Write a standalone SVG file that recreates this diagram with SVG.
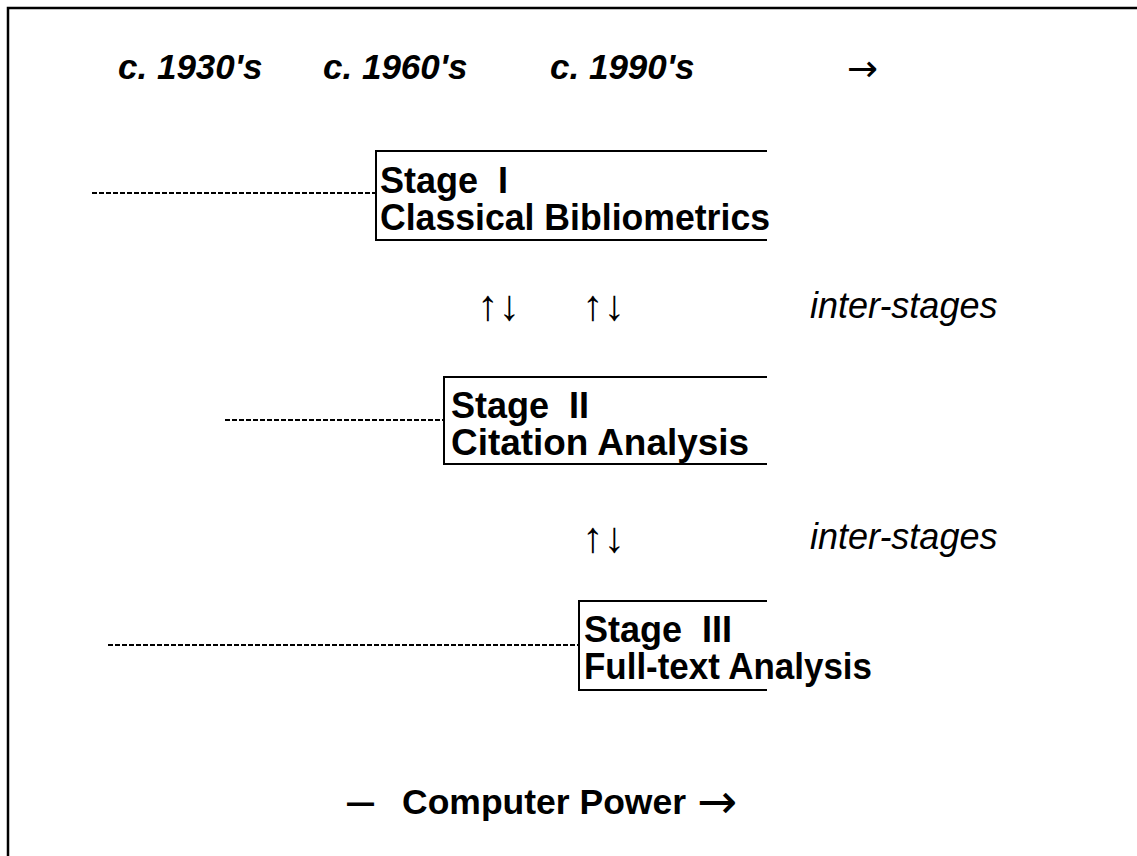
<svg xmlns="http://www.w3.org/2000/svg" width="1137" height="856" viewBox="0 0 1137 856">
<style>
.t{font-family:"Liberation Sans",Arial,sans-serif;fill:#000;white-space:pre}
.a{font-family:"DejaVu Sans",sans-serif;fill:#000}
.b{font-weight:bold}
.i{font-style:italic}
.box{fill:none;stroke:#000;stroke-width:2}
.dash{fill:none;stroke:#000;stroke-width:2;stroke-dasharray:5 2}
.frame{fill:none;stroke:#000;stroke-width:2.5}
</style>
<rect width="1137" height="856" fill="#fff"/>
<path class="frame" d="M8 856 V8 H1137"/>
<g id="timeline">
<text class="t b i" x="118" y="79" font-size="35">c. 1930's</text>
<text class="t b i" x="323" y="79" font-size="35">c. 1960's</text>
<text class="t b i" x="550" y="79" font-size="35">c. 1990's</text>
<text class="a" x="847" y="81" font-size="37">→</text>
</g>
<g id="connectors">
<line class="dash" x1="92" y1="193" x2="375" y2="193"/>
<line class="dash" x1="225" y1="420" x2="443" y2="420"/>
<line class="dash" x1="108" y1="645" x2="578" y2="645"/>
</g>
<g id="stage1">
<path class="box" d="M767 151 H376 V240 H767"/>
<text class="t b" x="380" y="193" font-size="36">Stage  I</text>
<text class="t b" x="380" y="230" font-size="36" textLength="390" lengthAdjust="spacingAndGlyphs">Classical Bibliometrics</text>
</g>
<g id="inter1">
<text class="t" x="477" y="320" font-size="43">↑↓</text>
<text class="t" x="582" y="320" font-size="43">↑↓</text>
<text class="t i" x="810" y="318" font-size="36">inter-stages</text>
</g>
<g id="stage2">
<path class="box" d="M767 377 H444 V464 H767"/>
<text class="t b" x="451" y="418" font-size="36">Stage  II</text>
<text class="t b" x="451" y="455" font-size="36" textLength="298" lengthAdjust="spacingAndGlyphs">Citation Analysis</text>
</g>
<g id="inter2">
<text class="t" x="582" y="552" font-size="43">↑↓</text>
<text class="t i" x="810" y="549" font-size="36">inter-stages</text>
</g>
<g id="stage3">
<path class="box" d="M767 601 H579 V690 H767"/>
<text class="t b" x="584" y="642" font-size="36">Stage  III</text>
<text class="t b" x="584" y="679" font-size="36" textLength="288" lengthAdjust="spacingAndGlyphs">Full-text Analysis</text>
</g>
<g id="power">
<text class="t b" x="347" y="814" font-size="35" textLength="27" lengthAdjust="spacingAndGlyphs">—</text>
<text class="t b" x="402" y="814" font-size="35.5">Computer Power</text>
<text class="a" x="697" y="818" font-size="48">→</text>
</g>
</svg>
